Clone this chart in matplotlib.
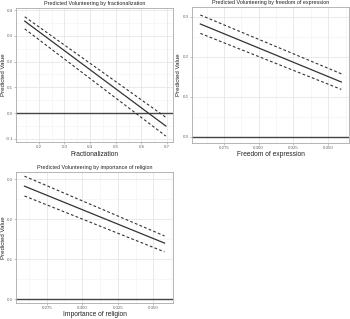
import matplotlib
matplotlib.use("Agg")
import matplotlib.pyplot as plt
import numpy as np

plt.rcParams['font.family'] = ['Liberation Sans', 'DejaVu Sans']

# Panel 1: fractionalization
frac_x = [0.145, 0.695]
frac_fit = [0.357, -0.050]
frac_hi = [0.374, -0.016]
frac_lo = [0.327, -0.089]

# Panel 2: freedom of expression
free_x = [0.258, 0.3595]
free_fit = [0.2825, 0.1375]
free_hi = [0.305, 0.158]
free_lo = [0.259, 0.119]

# Panel 3: importance of religion
rel_x = [0.259, 0.358]
rel_fit = [0.2825, 0.140]
rel_hi = [0.3075, 0.158]
rel_lo = [0.258, 0.118]

W, H = 350, 319
fig = plt.figure(figsize=(W / 100, H / 100), dpi=100)

def ax_at(l, t, r, b):
    return fig.add_axes([l / W, 1 - b / H, (r - l) / W, (b - t) / H])

panels = [
    dict(box=(16, 8, 173, 142), x=frac_x, fit=frac_fit, hi=frac_hi, lo=frac_lo,
         xlim=(0.111, 0.723), ylim=(-0.112, 0.408),
         xt=[0.2, 0.3, 0.4, 0.5, 0.6, 0.7], xtl=['0.2', '0.3', '0.4', '0.5', '0.6', '0.7'],
         yt=[-0.1, 0.0, 0.1, 0.2, 0.3, 0.4], ytl=['-0.1', '0.0', '0.1', '0.2', '0.3', '0.4'],
         title='Predicted Volunteering by fractionalization', xlabel='Fractionalization',
         ylab_x=3.2, xlab_y=154),
    dict(box=(192, 7, 349, 143), x=free_x, fit=free_fit, hi=free_hi, lo=free_lo,
         xlim=(0.252, 0.365), ylim=(-0.015, 0.325),
         xt=[0.275, 0.300, 0.325, 0.350], xtl=['0.275', '0.300', '0.325', '0.350'],
         yt=[0.0, 0.1, 0.2, 0.3], ytl=['0.0', '0.1', '0.2', '0.3'],
         title='Predicted Volunteering by freedom of expression', xlabel='Freedom of expression',
         ylab_x=178.5, xlab_y=154),
    dict(box=(16, 172, 173, 303), x=rel_x, fit=rel_fit, hi=rel_hi, lo=rel_lo,
         xlim=(0.253, 0.364), ylim=(-0.010, 0.318),
         xt=[0.275, 0.300, 0.325, 0.350], xtl=['0.275', '0.300', '0.325', '0.350'],
         yt=[0.0, 0.1, 0.2, 0.3], ytl=['0.0', '0.1', '0.2', '0.3'],
         title='Predicted Volunteering by importance of religion', xlabel='Importance of religion',
         ylab_x=3.2, xlab_y=315),
]

for p in panels:
    ax = ax_at(*p['box'])
    ax.set_xlim(*p['xlim'])
    ax.set_ylim(*p['ylim'])
    ax.set_xticks(p['xt'])
    ax.set_xticklabels(p['xtl'])
    ax.set_yticks(p['yt'])
    ax.set_yticklabels(p['ytl'])
    xt = p['xt']; yt = p['yt']
    dx = xt[1] - xt[0]; dy = yt[1] - yt[0]
    minx = [xt[0] - dx / 2] + [v + dx / 2 for v in xt]
    miny = [yt[0] - dy / 2] + [v + dy / 2 for v in yt]
    for v in minx:
        ax.axvline(v, color='#F2F2F2', lw=0.4, zorder=0)
    for v in miny:
        ax.axhline(v, color='#F2F2F2', lw=0.4, zorder=0)
    for v in xt:
        ax.axvline(v, color='#E6E6E6', lw=0.6, zorder=0)
    for v in yt:
        ax.axhline(v, color='#E6E6E6', lw=0.6, zorder=0)
    ax.axhline(0, color='#444444', lw=1.0, zorder=2)
    ax.plot(p['x'], p['fit'], color='#333333', lw=0.9, zorder=3)
    ax.plot(p['x'], p['hi'], color='#333333', lw=0.8, ls=(0, (2.5, 2)), zorder=3)
    ax.plot(p['x'], p['lo'], color='#333333', lw=0.8, ls=(0, (2.5, 2)), zorder=3)
    for s in ax.spines.values():
        s.set_color('#AAAAAA')
        s.set_linewidth(0.6)
    ax.tick_params(axis='both', labelsize=3.2, colors='#AAAAAA', labelcolor='#666666',
                   length=1.2, width=0.5, pad=0.8)
    ax.set_title(p['title'], fontsize=3.9, color='#222222', pad=2)
    ax.set_xlabel(p['xlabel'], fontsize=4.8, color='#222222')
    ax.set_ylabel('Predicted Value', fontsize=4.4, color='#222222')
    cy = 1 - (p['box'][1] + p['box'][3]) / 2 / H
    ax.yaxis.set_label_coords(p['ylab_x'] / W, cy, transform=fig.transFigure)
    ax.yaxis.label.set_va('center')
    cx = (p['box'][0] + p['box'][2]) / 2 / W
    ax.xaxis.set_label_coords(cx, 1 - p['xlab_y'] / H, transform=fig.transFigure)
    ax.xaxis.label.set_va('center')

fig.savefig('out.png', dpi=100)
